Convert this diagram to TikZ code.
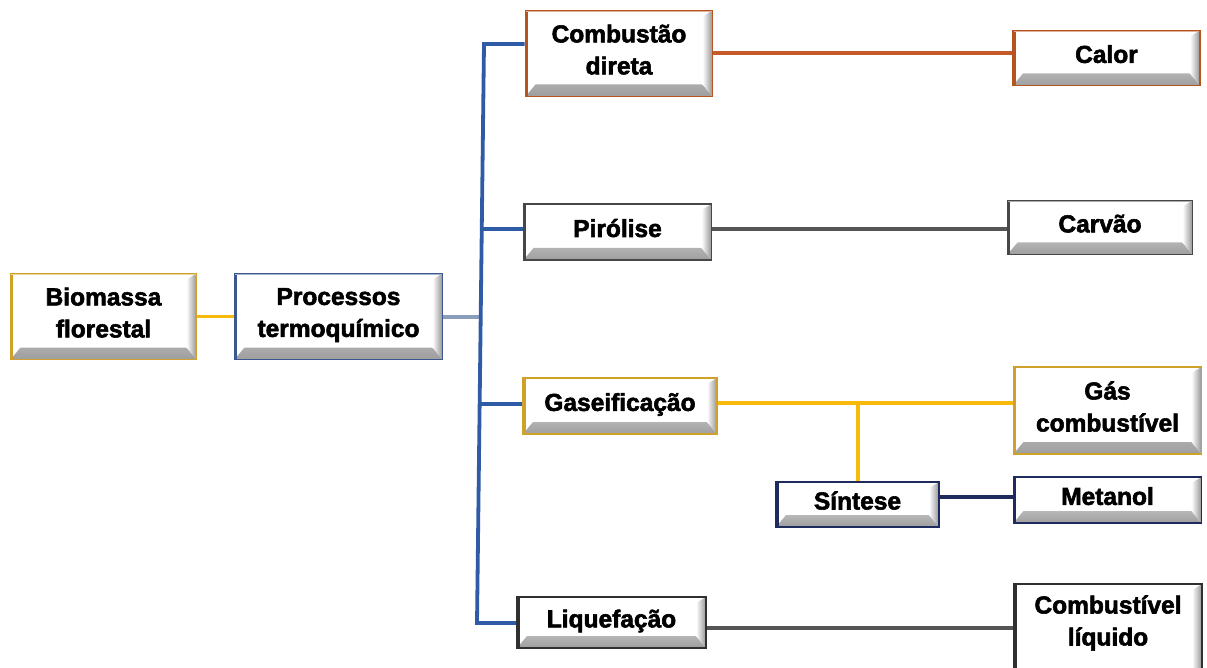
\documentclass[tikz,border=0pt]{standalone}
\usepackage{fontspec}
\setmainfont{Liberation Sans}[BoldFeatures={FakeBold=2.3}]
\usetikzlibrary{calc}
\definecolor{cyel}{HTML}{F7BA0B}
\definecolor{cgold}{HTML}{CFA02A}
\definecolor{ctrunk}{HTML}{2F5BA6}
\definecolor{cproc}{HTML}{3B5790}
\definecolor{cprocline}{HTML}{8A9DBD}
\definecolor{corange}{HTML}{C55A28}
\definecolor{cbrown}{HTML}{B5541E}
\definecolor{cgrey}{HTML}{555555}
\definecolor{cdgrey}{HTML}{474747}
\definecolor{cblk}{HTML}{303030}
\definecolor{cnavy}{HTML}{1F2B5E}
\tikzset{
  box/.style={draw=#1, line width=1.8pt, fill=white, text=black, align=center,
    inner sep=0pt, font=\bfseries\fontsize{24.5}{32}\selectfont, text depth=8pt,
    path picture={
      \shade[top color=white, bottom color=black!38]
        (path picture bounding box.south west) -- (path picture bounding box.south east)
        -- ($(path picture bounding box.south east)+(-10pt,12pt)$)
        -- ($(path picture bounding box.south west)+(10pt,12pt)$) -- cycle;
      \shade[left color=white, right color=black!42]
        (path picture bounding box.north east) -- (path picture bounding box.south east)
        -- ($(path picture bounding box.south east)+(-10pt,12pt)$)
        -- ($(path picture bounding box.north east)+(-10pt,-6pt)$) -- cycle;
      \draw[#1, line width=5pt] (path picture bounding box.north west) -- (path picture bounding box.south west);
      \draw[#1!45, line width=2.4pt] (path picture bounding box.north west) -- (path picture bounding box.north east);
    }},
  conn/.style={draw=#1, line width=3.8pt},
}
\begin{document}
\begin{tikzpicture}[x=1pt,y=-1pt]
\useasboundingbox (0,0) rectangle (1207,668);
% nodes
\node[box=cgold,  minimum width=186pt, minimum height=86pt] (bio)  at (103.5,316.5) {Biomassa\\florestal};
\node[box=cproc,  minimum width=208pt, minimum height=86pt] (proc) at (338.5,316.5) {Processos\\termoquímico};
\node[box=cbrown, minimum width=187pt, minimum height=86pt] (comb) at (619,53.5) {Combustão\\direta};
\node[box=cbrown, minimum width=187pt, minimum height=55pt] (calor) at (1106.5,58) {Calor};
\node[box=cdgrey, minimum width=188pt, minimum height=56pt] (pir)  at (617.5,232) {Pirólise};
\node[box=cdgrey, minimum width=185pt, minimum height=54pt] (carv) at (1100,227.5) {Carvão};
\node[box=cgold,  minimum width=194pt, minimum height=56pt] (gas)  at (620,406) {Gaseificação};
\node[box=cgold,  minimum width=188pt, minimum height=87pt] (gcomb) at (1107.5,410.5) {Gás\\combustível};
\node[box=cnavy,  minimum width=163pt, minimum height=45pt] (sint) at (857.5,504.5) {Síntese};
\node[box=cnavy,  minimum width=188pt, minimum height=46pt] (met)  at (1107.5,500) {Metanol};
\node[box=cblk, minimum width=189pt, minimum height=51pt] (liq)  at (611.5,622.5) {Liquefação};
\node[box=cblk, minimum width=188pt, minimum height=96pt, text depth=23pt] (cliq) at (1108,632) {Combustível\\líquido};
% helper coordinates
\coordinate (ttop) at (484,44);
\coordinate (tmid) at (482,317);
\coordinate (tgas) at (480,404);
\coordinate (tbot) at (477,623);
\coordinate (lc) at (0,53);
\coordinate (lp) at (0,229);
\coordinate (lg) at (0,403);
\coordinate (ls) at (0,497);
\coordinate (ll) at (0,628);
\coordinate (vs) at (858,0);
% connectors
\draw[conn=cyel] (bio.east) -- (proc.west);
\draw[conn=cprocline] (tmid -| proc.east) -- (tmid);
\draw[conn=ctrunk, line join=miter] (ttop -| comb.west) -- (ttop) -- (tbot) -- (tbot -| liq.west);
\draw[conn=ctrunk] (lp -| pir.west) -- (482,229);
\draw[conn=ctrunk] (tgas -| gas.west) -- (tgas);
\draw[conn=corange] (lc -| comb.east) -- (lc -| calor.west);
\draw[conn=cgrey] (lp -| pir.east) -- (lp -| carv.west);
\draw[conn=cyel] (lg -| gas.east) -- (lg -| gcomb.west);
\draw[conn=cyel] (lg -| vs) -- (vs |- sint.north);
\draw[conn=cnavy] (ls -| sint.east) -- (ls -| met.west);
\draw[conn=cgrey] (ll -| liq.east) -- (ll -| cliq.west);
\end{tikzpicture}
\end{document}
